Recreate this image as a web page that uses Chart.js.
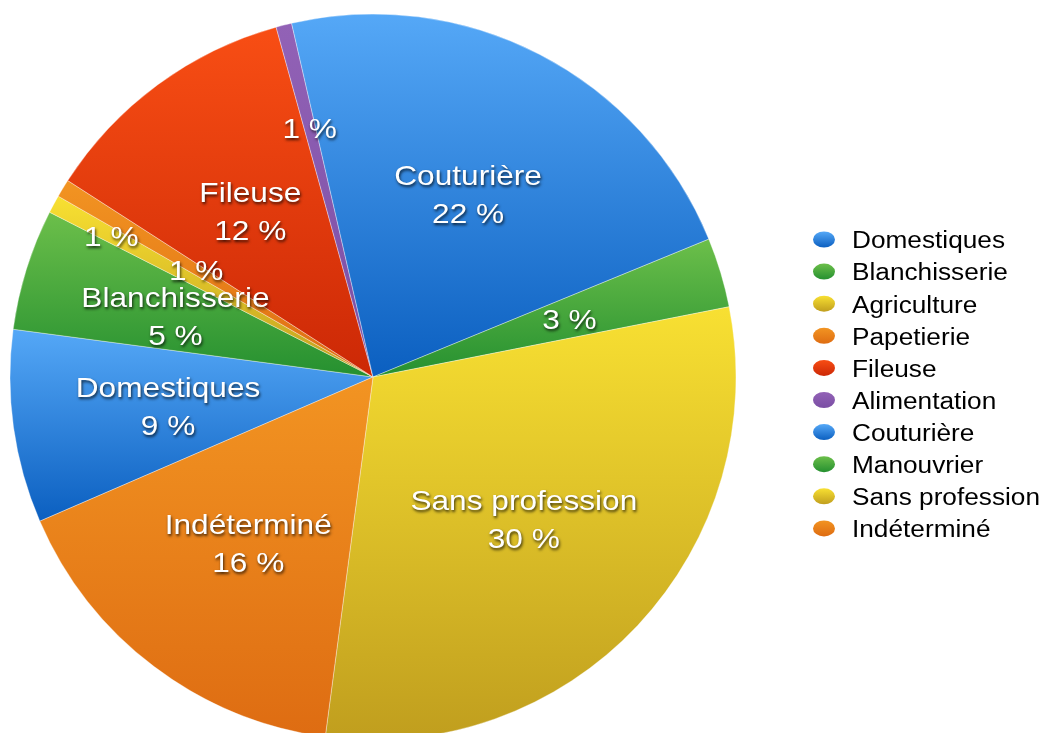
<!DOCTYPE html>
<html>
<head>
<meta charset="utf-8">
<script src="https://cdn.jsdelivr.net/npm/chart.js@4.4.1/dist/chart.umd.min.js"></script>
<style>
  html, body { margin: 0; padding: 0; background: #fff; overflow: hidden; }
  #wrap { width: 1045px; height: 733px; position: relative; }
</style>
</head>
<body>
<div id="wrap"><canvas id="pieChart"></canvas></div>
<script>
// --- données ---
const labels = ['Domestiques', 'Blanchisserie', 'Agriculture', 'Papetierie', 'Fileuse',
                'Alimentation', 'Couturière', 'Manouvrier', 'Sans profession', 'Indéterminé'];
const values = [8.6, 5.4, 0.8, 0.8, 11.6, 0.7, 22.4, 3.1, 30.2, 16.4];
// couleurs (haut clair -> bas foncé)
const lightColors = ['#55a8f7', '#6cbf4a', '#f8e032', '#f29422', '#f84e14',
                     '#9262b6', '#55a8f7', '#6cbf4a', '#f8e032', '#f29422'];
const darkColors  = ['#0b5fc0', '#259030', '#c09e1e', '#de6c12', '#cc2806',
                     '#7a4ea4', '#0b5fc0', '#259030', '#c09e1e', '#de6c12'];
// étiquette avec le nom ou seulement le pourcentage
const showName = [true, true, false, false, true, false, true, false, true, true];
const labelRadius = [0.57, 0.57, 0.82, 0.57, 0.57, 0.71, 0.57, 0.565, 0.57, 0.57];

const ROTATION = 246.6;
const RADIUS = 363;
const total = values.reduce((a, b) => a + b, 0);

// dégradé vertical sur la boîte englobante de chaque part
function sliceGradient(context) {
    const chart = context.chart;
    const area = chart.chartArea;
    const i = context.dataIndex;
    if (!area || i === undefined) return lightColors[i || 0];
    const cx = (area.left + area.right) / 2, cy = (area.top + area.bottom) / 2;
    let cum = 0;
    for (let k = 0; k < i; k++) cum += values[k];
    const rot = (ROTATION - 90) * Math.PI / 180;
    const a0 = rot + 2 * Math.PI * cum / total;
    const a1 = a0 + 2 * Math.PI * values[i] / total;
    const ys = [cy, cy + RADIUS * Math.sin(a0), cy + RADIUS * Math.sin(a1)];
    for (let k = -4; k <= 4; k++) {
        const a = Math.PI / 2 + k * Math.PI;
        if (a > a0 && a < a1) ys.push(cy + RADIUS * Math.sin(a));
    }
    const y0 = Math.min(...ys), y1 = Math.max(...ys);
    const g = chart.ctx.createLinearGradient(0, y0, 0, y1 + 0.01);
    g.addColorStop(0, lightColors[i]);
    g.addColorStop(1, darkColors[i]);
    return g;
}

function shadowText(ctx, text, x, y, align) {
    ctx.save();
    ctx.translate(x, y);
    ctx.scale(1.13, 1);
    ctx.textAlign = align;
    ctx.textBaseline = 'middle';
    ctx.shadowColor = 'rgba(0,0,0,0.75)';
    ctx.shadowOffsetX = 1;
    ctx.shadowOffsetY = 2;
    ctx.shadowBlur = 3;
    ctx.fillStyle = '#fff';
    ctx.fillText(text, 0, 0);
    ctx.restore();
}

const sliceLabels = {
    id: 'sliceLabels',
    afterDatasetsDraw(chart) {
        const ctx = chart.ctx;
        ctx.font = '28px "Liberation Sans", Arial, sans-serif';
        chart.getDatasetMeta(0).data.forEach((arc, i) => {
            const mid = (arc.startAngle + arc.endAngle) / 2;
            const r = arc.outerRadius * labelRadius[i];
            const x = arc.x + r * Math.cos(mid);
            const y = arc.y + r * Math.sin(mid) + 3;
            const pct = Math.round(values[i] / total * 100) + ' %';
            if (showName[i]) {
                shadowText(ctx, labels[i], x, y - 19, 'center');
                shadowText(ctx, pct, x, y + 19, 'center');
            } else {
                shadowText(ctx, pct, x, y, 'center');
            }
        });
    }
};

const sideLegend = {
    id: 'sideLegend',
    afterDraw(chart) {
        const ctx = chart.ctx;
        const x0 = 824, y0 = 239.5, step = 32.1;
        labels.forEach((lab, i) => {
            const y = y0 + i * step;
            const g = ctx.createLinearGradient(0, y - 8, 0, y + 8);
            g.addColorStop(0, lightColors[i]);
            g.addColorStop(1, darkColors[i]);
            ctx.beginPath();
            ctx.ellipse(x0, y, 11, 8, 0, 0, Math.PI * 2);
            ctx.fillStyle = g;
            ctx.fill();
            ctx.save();
            ctx.translate(852, y + 2.5);
            ctx.scale(1.14, 1);
            ctx.font = '23px "Liberation Sans", Arial, sans-serif';
            ctx.fillStyle = '#000';
            ctx.textAlign = 'left';
            ctx.textBaseline = 'middle';
            ctx.fillText(lab, 0, 0);
            ctx.restore();
        });
    }
};

new Chart(document.getElementById('pieChart'), {
    type: 'pie',
    data: {
        labels: labels,
        datasets: [{
            data: values,
            backgroundColor: sliceGradient,
            borderColor: 'rgba(255,255,255,0.35)',
            borderWidth: 1,
            rotation: ROTATION,
            radius: RADIUS,
            clip: false
        }]
    },
    options: {
        responsive: true,
        maintainAspectRatio: false,
        animation: false,
        layout: { padding: { left: 0, right: 299, top: 21, bottom: 0 } },
        plugins: { legend: { display: false }, tooltip: { enabled: false } }
    },
    plugins: [sliceLabels, sideLegend]
});
</script>
</body>
</html>
